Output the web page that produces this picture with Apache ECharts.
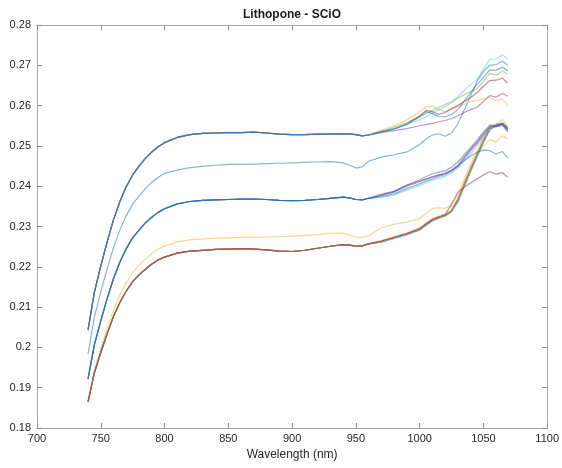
<!DOCTYPE html>
<html>
<head>
<meta charset="utf-8">
<script src="https://cdn.jsdelivr.net/npm/echarts@6/dist/echarts.min.js"></script>
<style>html,body{margin:0;padding:0;background:#fff}#c{width:562px;height:468px}</style>
</head>
<body>
<div id="c"></div>
<script>
// Wavelengths (nm)
var wavelengths = [740,745,750,755,760,765,770,775,780,785,790,795,800,810,820,830,840,850,860,870,880,890,900,910,920,930,940,945,950,955,960,970,980,990,1000,1005,1010,1015,1020,1025,1030,1035,1040,1045,1050,1055,1060,1065,1069];

// Group A shared part (740..960)
var aBase = [0.2043,0.2137,0.2202,0.2262,0.2317,0.2362,0.2399,0.2428,0.2450,0.2469,0.2485,0.2498,0.2508,0.2521,0.2528,0.2531,0.2532,0.2533,0.2533,0.2534,0.2532,0.2529,0.2528,0.2528,0.2529,0.2529,0.2530,0.2530,0.2528,0.2525,0.2527];
// Group A tails (970..1069)
var aYellow    = [0.2540,0.2550,0.2565,0.2585,0.2597,0.2598,0.2590,0.2585,0.2590,0.2598,0.2604,0.2610,0.2613,0.2616,0.2620,0.2612,0.2616,0.2601];
var aGreen     = [0.2537,0.2546,0.2558,0.2572,0.2580,0.2588,0.2596,0.2603,0.2610,0.2618,0.2627,0.2635,0.2642,0.2660,0.2680,0.2676,0.2685,0.2678];
var aLightBlue = [0.2536,0.2543,0.2553,0.2565,0.2572,0.2582,0.2590,0.2598,0.2607,0.2622,0.2638,0.2652,0.2665,0.2690,0.2715,0.2716,0.2726,0.2716];
var aRed       = [0.2535,0.2542,0.2555,0.2575,0.2588,0.2585,0.2578,0.2583,0.2593,0.2600,0.2610,0.2620,0.2632,0.2648,0.2662,0.2663,0.2668,0.2655];
var aBlue      = [0.2535,0.2542,0.2553,0.2572,0.2585,0.2580,0.2573,0.2572,0.2578,0.2590,0.2612,0.2632,0.2652,0.2670,0.2688,0.2688,0.2696,0.2686];
var aPurple    = [0.2533,0.2538,0.2543,0.2550,0.2553,0.2556,0.2560,0.2563,0.2568,0.2575,0.2583,0.2590,0.2596,0.2610,0.2625,0.2621,0.2630,0.2623];

// Group B (single line)
var bBlue = [0.1984,0.2075,0.2137,0.2195,0.2248,0.2291,0.2327,0.2355,0.2376,0.2394,0.2410,0.2422,0.2432,0.2440,0.2446,0.2449,0.2452,0.2454,0.2454,0.2455,0.2456,0.2457,0.2458,0.2459,0.2460,0.2461,0.2458,0.2452,0.2445,0.2448,0.2462,0.2472,0.2478,0.2485,0.2503,0.2517,0.2527,0.2530,0.2524,0.2532,0.2555,0.2590,0.2625,0.2660,0.2685,0.2700,0.2702,0.2710,0.2700];

// Group C shared part
var cBase = [0.1922,0.2007,0.2066,0.2121,0.2171,0.2212,0.2245,0.2272,0.2291,0.2309,0.2323,0.2335,0.2344,0.2356,0.2362,0.2365,0.2366,0.2367,0.2368,0.2368,0.2367,0.2365,0.2364,0.2365,0.2367,0.2370,0.2373,0.2371,0.2367,0.2366,0.2370];
var cRed       = [0.2380,0.2388,0.2403,0.2413,0.2418,0.2424,0.2428,0.2432,0.2440,0.2452,0.2472,0.2492,0.2510,0.2530,0.2548,0.2549,0.2553,0.2538];
var cBlue      = [0.2377,0.2386,0.2402,0.2416,0.2424,0.2431,0.2435,0.2438,0.2447,0.2460,0.2478,0.2496,0.2515,0.2535,0.2552,0.2549,0.2556,0.2542];
var cLightBlue = [0.2372,0.2378,0.2390,0.2402,0.2408,0.2414,0.2420,0.2425,0.2433,0.2445,0.2462,0.2480,0.2500,0.2522,0.2545,0.2547,0.2552,0.2537];
var cPurple    = [0.2378,0.2386,0.2400,0.2411,0.2417,0.2422,0.2427,0.2431,0.2439,0.2450,0.2468,0.2488,0.2506,0.2527,0.2547,0.2548,0.2551,0.2535];
var cBlue2     = [0.2374,0.2381,0.2394,0.2406,0.2412,0.2418,0.2424,0.2429,0.2437,0.2449,0.2464,0.2475,0.2484,0.2490,0.2488,0.2480,0.2486,0.2470];

// Group D shared part
var dBase = [0.1865,0.1937,0.1988,0.2034,0.2077,0.2112,0.2140,0.2163,0.2180,0.2194,0.2207,0.2217,0.2224,0.2234,0.2239,0.2241,0.2243,0.2244,0.2245,0.2244,0.2242,0.2239,0.2238,0.2241,0.2246,0.2251,0.2255,0.2254,0.2251,0.2252,0.2257];
var dOrange    = [0.2264,0.2273,0.2282,0.2294,0.2306,0.2317,0.2323,0.2328,0.2340,0.2368,0.2408,0.2445,0.2480,0.2515,0.2543,0.2553,0.2557,0.2545];
var dGreen     = [0.2263,0.2272,0.2281,0.2293,0.2305,0.2316,0.2322,0.2328,0.2339,0.2366,0.2405,0.2442,0.2478,0.2512,0.2541,0.2550,0.2553,0.2543];
var dPurple    = [0.2262,0.2272,0.2281,0.2292,0.2305,0.2315,0.2322,0.2327,0.2338,0.2364,0.2402,0.2440,0.2476,0.2510,0.2540,0.2551,0.2555,0.2541];
var dLightBlue = [0.2261,0.2270,0.2279,0.2290,0.2302,0.2313,0.2320,0.2326,0.2336,0.2360,0.2398,0.2436,0.2472,0.2508,0.2540,0.2549,0.2554,0.2540];
var dBlue      = [0.2262,0.2271,0.2280,0.2292,0.2304,0.2315,0.2321,0.2326,0.2337,0.2362,0.2400,0.2438,0.2474,0.2510,0.2542,0.2552,0.2556,0.2546];
var dRed       = [0.2264,0.2274,0.2283,0.2295,0.2307,0.2318,0.2324,0.2330,0.2355,0.2385,0.2398,0.2408,0.2418,0.2428,0.2436,0.2430,0.2434,0.2422];
var dYellow2   = [0.2265,0.2274,0.2284,0.2296,0.2308,0.2319,0.2325,0.2330,0.2342,0.2370,0.2408,0.2445,0.2478,0.2500,0.2515,0.2510,0.2525,0.2518];
// Group D yellow line with higher plateau (full)
var dYellow = [0.1865,0.1943,0.1997,0.2047,0.2093,0.2131,0.2161,0.2185,0.2204,0.2219,0.2233,0.2244,0.2252,0.2262,0.2267,0.2269,0.2271,0.2272,0.2273,0.2273,0.2274,0.2275,0.2276,0.2278,0.2280,0.2283,0.2283,0.2279,0.2274,0.2273,0.2277,0.2297,0.2306,0.2311,0.2320,0.2332,0.2345,0.2346,0.2345,0.2352,0.2378,0.2418,0.2455,0.2488,0.2520,0.2550,0.2555,0.2565,0.2550];

var xTicks = [700,750,800,850,900,950,1000,1050,1100];
var yTicks = [0.18,0.19,0.2,0.21,0.22,0.23,0.24,0.25,0.26,0.27,0.28];

var C = {blue:'#0072BD', orange:'#D95319', yellow:'#EDB120', purple:'#7E2F8E', green:'#77AC30', lightblue:'#4DBEEE', red:'#A2142F'};

var lines = [
  ['D', dBase.concat(dBlue), C.blue],
  ['D', dBase.concat(dYellow2), C.yellow],
  ['D', dYellow, C.yellow],
  ['D', dBase.concat(dPurple), C.purple],
  ['D', dBase.concat(dGreen), C.green],
  ['D', dBase.concat(dLightBlue), C.lightblue],
  ['D', dBase.concat(dRed), C.red],
  ['D', dBase.concat(dOrange), C.orange],
  ['C', cBase.concat(cRed), C.red],
  ['C', cBase.concat(cPurple), C.purple],
  ['C', cBase.concat(cLightBlue), C.lightblue],
  ['C', cBase.concat(cBlue2), C.blue],
  ['C', cBase.concat(cBlue), C.blue],
  ['B', bBlue, C.blue],
  ['A', aBase.concat(aYellow), C.yellow],
  ['A', aBase.concat(aGreen), C.green],
  ['A', aBase.concat(aRed), C.red],
  ['A', aBase.concat(aPurple), C.purple],
  ['A', aBase.concat(aLightBlue), C.lightblue],
  ['A', aBase.concat(aBlue), C.blue]
];

var series = lines.map(function(l, i){
  return {
    type:'line', name:l[0]+i, showSymbol:false, symbol:'none', animation:false,
    lineStyle:{color:l[2], width:1.2, opacity:0.5},
    data: wavelengths.map(function(w, j){ return [w, l[1][j]]; })
  };
});

var font = '"Liberation Sans", Arial, sans-serif';
var axisLineStyle = {color:'#a8a8a8', width:1};
var tickStyle = {color:'#8a8a8a', width:1};

var chart = echarts.init(document.getElementById('c'), null, {renderer:'canvas'});
chart.setOption({
  animation:false,
  backgroundColor:'#ffffff',
  grid:{left:37, right:14, top:25, bottom:40, containLabel:false},
  graphic:[{type:'text', x:292, y:9, style:{text:'Lithopone - SCiO', font:'bold 12px ' + font, align:'center', textAlign:'center', verticalAlign:'top', textVerticalAlign:'top', fill:'#1a1a1a'}}],
  xAxis:[
    {type:'value', position:'bottom', min:xTicks[0], max:xTicks[xTicks.length-1], interval:50,
     axisLine:{show:true, lineStyle:axisLineStyle}, axisTick:{show:true, inside:true, length:5, lineStyle:tickStyle},
     axisLabel:{color:'#262626', fontSize:11, fontFamily:font, margin:5, formatter:function(v){ return String(Math.round(v)); }},
     splitLine:{show:false},
     name:'Wavelength (nm)', nameLocation:'middle', nameGap:21, nameTextStyle:{color:'#262626', fontSize:12, fontFamily:font}},
    {type:'value', position:'top', min:xTicks[0], max:xTicks[xTicks.length-1], interval:50,
     axisLine:{show:true, lineStyle:axisLineStyle}, axisTick:{show:true, inside:true, length:5, lineStyle:tickStyle},
     axisLabel:{show:false}, splitLine:{show:false}}
  ],
  yAxis:[
    {type:'value', position:'left', min:yTicks[0], max:yTicks[yTicks.length-1], interval:0.01,
     axisLine:{show:true, lineStyle:axisLineStyle}, axisTick:{show:true, inside:true, length:5, lineStyle:tickStyle},
     axisLabel:{color:'#262626', fontSize:11, fontFamily:font, margin:6,
       formatter:function(v){ return String(Math.round(v*100)/100); }}, splitLine:{show:false}},
    {type:'value', position:'right', min:yTicks[0], max:yTicks[yTicks.length-1], interval:0.01,
     axisLine:{show:true, lineStyle:axisLineStyle}, axisTick:{show:true, inside:true, length:5, lineStyle:tickStyle},
     axisLabel:{show:false}, splitLine:{show:false}}
  ],
  series: series
});
</script>
</body>
</html>
